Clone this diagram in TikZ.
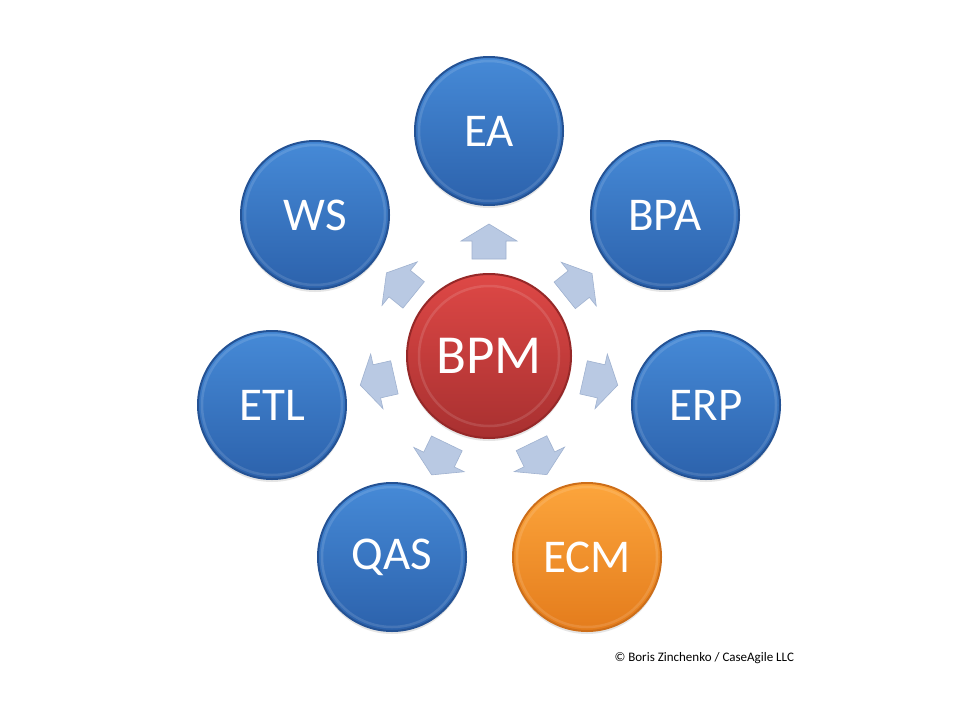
\documentclass[tikz,border=0pt]{standalone}
\usepackage{fontspec}
\setmainfont{Carlito}
\usetikzlibrary{calc,shadows}
\definecolor{bluetop}{RGB}{70,138,215}
\definecolor{bluebot}{RGB}{44,98,172}
\definecolor{blueedge}{RGB}{36,82,148}
\definecolor{redtop}{RGB}{222,72,70}
\definecolor{redbot}{RGB}{168,48,48}
\definecolor{rededge}{RGB}{150,40,40}
\definecolor{orangetop}{RGB}{252,165,60}
\definecolor{orangebot}{RGB}{228,124,28}
\definecolor{orangeedge}{RGB}{205,110,25}
\definecolor{arrowfill}{RGB}{185,201,227}
\definecolor{arrowedge}{RGB}{160,178,208}
\tikzset{
  orb/.style={circle, inner sep=0pt, minimum size=148pt, line width=2pt,
    text=white, font=\fontsize{47}{47}\selectfont,
    drop shadow={shadow xshift=0pt, shadow yshift=-3pt, opacity=.2},
    path picture={\draw[white, opacity=.12, line width=2.5pt]
      (path picture bounding box.center) circle (70pt);}},
  blueorb/.style={orb, draw=blueedge, top color=bluetop, bottom color=bluebot},
  redorb/.style={orb, draw=rededge, top color=redtop, bottom color=redbot,
    minimum size=164pt, font=\fontsize{55}{55}\selectfont},
  orangeorb/.style={orb, draw=orangeedge, top color=orangetop, bottom color=orangebot},
  barrow/.pic={\fill[arrowfill, draw=arrowedge, line width=.6pt]
    (-17.5,-17)--(0.5,-17)--(0.5,-28)--(17.5,0)--(0.5,28)--(0.5,17)--(-17.5,17)--cycle;}
}
\begin{document}
\begin{tikzpicture}[x=1pt,y=-1pt]
\useasboundingbox[fill=white] (0,0) rectangle (960,720);
\node[redorb] (bpm) at (489,356) {BPM};
\node[blueorb] (ea) at (489,131) {EA};
\node[blueorb] (bpa) at (665,215) {BPA};
\node[blueorb] (erp) at (706,405) {ERP};
\node[orangeorb] (ecm) at (587,557) {ECM};
\node[blueorb] (qas) at (392,557) {QAS};
\node[blueorb] (etl) at (272,405) {ETL};
\node[blueorb] (ws) at (315,215) {WS};
\foreach \t in {ea,bpa,erp,ecm,qas,etl,ws}{
  \path let \p1=($(\t.center)-(bpm.center)$), \n1={atan2(\y1,\x1)} in
    ($(bpm.center)!114.5pt!(\t.center)$) pic[rotate=\n1] {barrow};
}
\node[font=\fontsize{13}{13}\selectfont, anchor=west, text=black] (copy) at (611,658) {© Boris Zinchenko / CaseAgile LLC};
\end{tikzpicture}
\end{document}
